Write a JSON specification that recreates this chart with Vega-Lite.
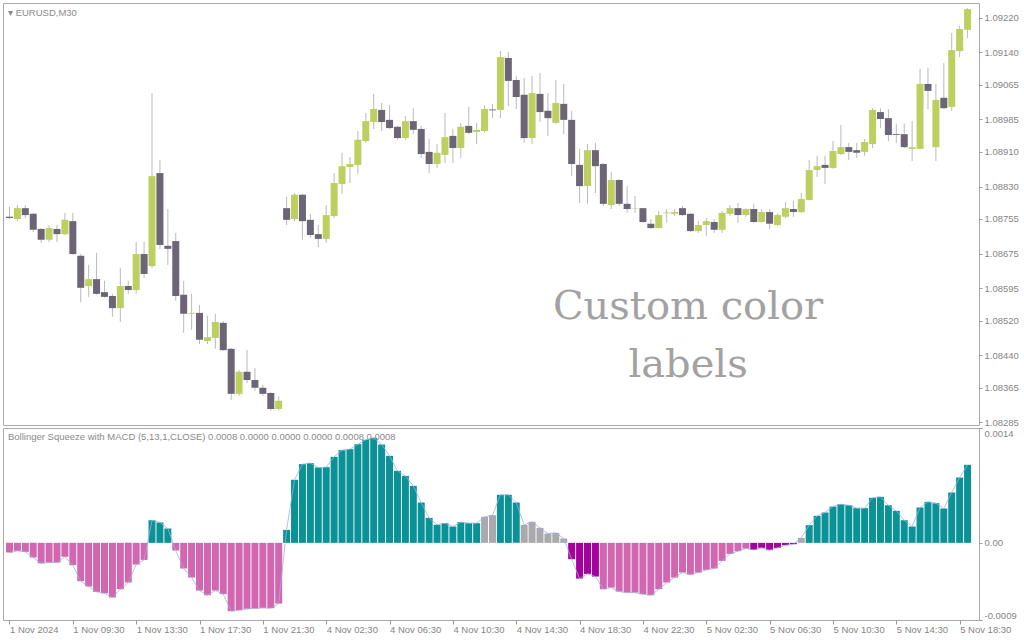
{
"$schema": "https://vega.github.io/schema/vega-lite/v6.json",
"background": "white",
"padding": {"left": 2, "top": 2, "right": 0, "bottom": 0},
"bounds": "flush",
"spacing": 3,
"config": {"view": {"stroke": "#a9a9a9", "strokeWidth": 1}, "axis": {"labelFont": "Liberation Sans", "labelFontSize": 9.5, "labelColor": "#858585", "tickColor": "#9a9a9a", "grid": false, "domain": false, "title": null, "labelOverlap": false}},
"datasets": {
"ohlc": [
{"i":0,"o":1.08760,"h":1.08783,"l":1.08755,"c":1.08757,"m":-0.000115,"s":"bear"},
{"i":1,"o":1.08755,"h":1.08787,"l":1.08750,"c":1.08780,"m":-0.000095,"s":"bear"},
{"i":2,"o":1.08780,"h":1.08787,"l":1.08757,"c":1.08764,"m":-0.000107,"s":"bear"},
{"i":3,"o":1.08767,"h":1.08769,"l":1.08725,"c":1.08730,"m":-0.000175,"s":"bear"},
{"i":4,"o":1.08732,"h":1.08734,"l":1.08700,"c":1.08707,"m":-0.000243,"s":"bear"},
{"i":5,"o":1.08707,"h":1.08741,"l":1.08702,"c":1.08734,"m":-0.000235,"s":"bear"},
{"i":6,"o":1.08732,"h":1.08741,"l":1.08702,"c":1.08720,"m":-0.000235,"s":"bear"},
{"i":7,"o":1.08720,"h":1.08769,"l":1.08718,"c":1.08753,"m":-0.000167,"s":"bear"},
{"i":8,"o":1.08750,"h":1.08769,"l":1.08672,"c":1.08674,"m":-0.000266,"s":"bear"},
{"i":9,"o":1.08670,"h":1.08674,"l":1.08563,"c":1.08596,"m":-0.000457,"s":"bear"},
{"i":10,"o":1.08600,"h":1.08649,"l":1.08575,"c":1.08616,"m":-0.000521,"s":"bear"},
{"i":11,"o":1.08616,"h":1.08677,"l":1.08580,"c":1.08582,"m":-0.000585,"s":"bear"},
{"i":12,"o":1.08586,"h":1.08612,"l":1.08573,"c":1.08575,"m":-0.000601,"s":"bear"},
{"i":13,"o":1.08577,"h":1.08582,"l":1.08529,"c":1.08549,"m":-0.000652,"s":"bear"},
{"i":14,"o":1.08549,"h":1.08642,"l":1.08517,"c":1.08600,"m":-0.000553,"s":"bear"},
{"i":15,"o":1.08600,"h":1.08612,"l":1.08582,"c":1.08591,"m":-0.000473,"s":"bear"},
{"i":16,"o":1.08591,"h":1.08702,"l":1.08582,"c":1.08674,"m":-0.000259,"s":"bear"},
{"i":17,"o":1.08674,"h":1.08702,"l":1.08619,"c":1.08628,"m":-0.000203,"s":"bear"},
{"i":18,"o":1.08646,"h":1.09046,"l":1.08642,"c":1.08854,"m":0.000270,"s":"bull"},
{"i":19,"o":1.08861,"h":1.08891,"l":1.08686,"c":1.08695,"m":0.000243,"s":"bull"},
{"i":20,"o":1.08693,"h":1.08778,"l":1.08649,"c":1.08686,"m":0.000171,"s":"bull"},
{"i":21,"o":1.08704,"h":1.08723,"l":1.08566,"c":1.08577,"m":-0.000091,"s":"bear"},
{"i":22,"o":1.08580,"h":1.08612,"l":1.08492,"c":1.08536,"m":-0.000306,"s":"bear"},
{"i":23,"o":1.08536,"h":1.08582,"l":1.08499,"c":1.08538,"m":-0.000414,"s":"bear"},
{"i":24,"o":1.08538,"h":1.08556,"l":1.08466,"c":1.08476,"m":-0.000569,"s":"bear"},
{"i":25,"o":1.08473,"h":1.08531,"l":1.08466,"c":1.08482,"m":-0.000624,"s":"bear"},
{"i":26,"o":1.08480,"h":1.08536,"l":1.08455,"c":1.08517,"m":-0.000569,"s":"bear"},
{"i":27,"o":1.08515,"h":1.08519,"l":1.08450,"c":1.08452,"m":-0.000612,"s":"bear"},
{"i":28,"o":1.08455,"h":1.08457,"l":1.08337,"c":1.08351,"m":-0.000815,"s":"bear"},
{"i":29,"o":1.08351,"h":1.08406,"l":1.08346,"c":1.08402,"m":-0.000803,"s":"bear"},
{"i":30,"o":1.08402,"h":1.08452,"l":1.08376,"c":1.08383,"m":-0.000787,"s":"bear"},
{"i":31,"o":1.08383,"h":1.08411,"l":1.08358,"c":1.08365,"m":-0.000783,"s":"bear"},
{"i":32,"o":1.08365,"h":1.08372,"l":1.08346,"c":1.08351,"m":-0.000776,"s":"bear"},
{"i":33,"o":1.08353,"h":1.08355,"l":1.08312,"c":1.08316,"m":-0.000779,"s":"bear"},
{"i":34,"o":1.08316,"h":1.08346,"l":1.08312,"c":1.08335,"m":-0.000724,"s":"bear"},
{"i":35,"o":1.08780,"h":1.08806,"l":1.08741,"c":1.08753,"m":0.000155,"s":"bull"},
{"i":36,"o":1.08755,"h":1.08815,"l":1.08750,"c":1.08811,"m":0.000752,"s":"bull"},
{"i":37,"o":1.08811,"h":1.08813,"l":1.08707,"c":1.08750,"m":0.000939,"s":"bull"},
{"i":38,"o":1.08753,"h":1.08767,"l":1.08711,"c":1.08718,"m":0.000951,"s":"bull"},
{"i":39,"o":1.08720,"h":1.08741,"l":1.08690,"c":1.08709,"m":0.000899,"s":"bull"},
{"i":40,"o":1.08709,"h":1.08787,"l":1.08700,"c":1.08764,"m":0.000903,"s":"bull"},
{"i":41,"o":1.08762,"h":1.08861,"l":1.08757,"c":1.08838,"m":0.001026,"s":"bull"},
{"i":42,"o":1.08836,"h":1.08908,"l":1.08813,"c":1.08877,"m":0.001106,"s":"bull"},
{"i":43,"o":1.08875,"h":1.08898,"l":1.08838,"c":1.08882,"m":0.001118,"s":"bull"},
{"i":44,"o":1.08880,"h":1.08958,"l":1.08859,"c":1.08938,"m":0.001177,"s":"bull"},
{"i":45,"o":1.08935,"h":1.09000,"l":1.08931,"c":1.08981,"m":0.001229,"s":"bull"},
{"i":46,"o":1.08979,"h":1.09044,"l":1.08963,"c":1.09009,"m":0.001253,"s":"bull"},
{"i":47,"o":1.09007,"h":1.09023,"l":1.08958,"c":1.08979,"m":0.001173,"s":"bull"},
{"i":48,"o":1.08984,"h":1.09018,"l":1.08963,"c":1.08965,"m":0.001038,"s":"bull"},
{"i":49,"o":1.08968,"h":1.08970,"l":1.08938,"c":1.08942,"m":0.000859,"s":"bull"},
{"i":50,"o":1.08942,"h":1.08993,"l":1.08938,"c":1.08981,"m":0.000799,"s":"bull"},
{"i":51,"o":1.08981,"h":1.09011,"l":1.08951,"c":1.08961,"m":0.000680,"s":"bull"},
{"i":52,"o":1.08963,"h":1.08970,"l":1.08896,"c":1.08905,"m":0.000481,"s":"bull"},
{"i":53,"o":1.08910,"h":1.08940,"l":1.08861,"c":1.08882,"m":0.000298,"s":"bull"},
{"i":54,"o":1.08882,"h":1.08928,"l":1.08873,"c":1.08908,"m":0.000215,"s":"bull"},
{"i":55,"o":1.08903,"h":1.09000,"l":1.08884,"c":1.08944,"m":0.000235,"s":"bull"},
{"i":56,"o":1.08947,"h":1.08963,"l":1.08884,"c":1.08919,"m":0.000195,"s":"bull"},
{"i":57,"o":1.08919,"h":1.08977,"l":1.08896,"c":1.08968,"m":0.000247,"s":"bull"},
{"i":58,"o":1.08970,"h":1.09014,"l":1.08951,"c":1.08954,"m":0.000235,"s":"bull"},
{"i":59,"o":1.08956,"h":1.08977,"l":1.08928,"c":1.08961,"m":0.000235,"s":"bull"},
{"i":60,"o":1.08958,"h":1.09018,"l":1.08954,"c":1.09009,"m":0.000310,"s":"flat"},
{"i":61,"o":1.09008,"h":1.09021,"l":1.08988,"c":1.09006,"m":0.000330,"s":"flat"},
{"i":62,"o":1.09007,"h":1.09143,"l":1.08988,"c":1.09129,"m":0.000573,"s":"bull"},
{"i":63,"o":1.09127,"h":1.09141,"l":1.09016,"c":1.09074,"m":0.000573,"s":"bull"},
{"i":64,"o":1.09076,"h":1.09085,"l":1.09009,"c":1.09037,"m":0.000481,"s":"bull"},
{"i":65,"o":1.09042,"h":1.09081,"l":1.08931,"c":1.08942,"m":0.000215,"s":"flat"},
{"i":66,"o":1.08942,"h":1.09085,"l":1.08928,"c":1.09046,"m":0.000251,"s":"flat"},
{"i":67,"o":1.09044,"h":1.09092,"l":1.08979,"c":1.09002,"m":0.000179,"s":"flat"},
{"i":68,"o":1.09005,"h":1.09046,"l":1.08947,"c":1.08988,"m":0.000111,"s":"flat"},
{"i":69,"o":1.08977,"h":1.09076,"l":1.08975,"c":1.09023,"m":0.000119,"s":"flat"},
{"i":70,"o":1.09021,"h":1.09067,"l":1.08951,"c":1.08984,"m":0.000052,"s":"flat"},
{"i":71,"o":1.08984,"h":1.09005,"l":1.08854,"c":1.08882,"m":-0.000195,"s":"strong"},
{"i":72,"o":1.08880,"h":1.08917,"l":1.08792,"c":1.08831,"m":-0.000426,"s":"strong"},
{"i":73,"o":1.08831,"h":1.08928,"l":1.08790,"c":1.08914,"m":-0.000370,"s":"strong"},
{"i":74,"o":1.08914,"h":1.08931,"l":1.08815,"c":1.08877,"m":-0.000402,"s":"strong"},
{"i":75,"o":1.08882,"h":1.08884,"l":1.08785,"c":1.08790,"m":-0.000553,"s":"bear"},
{"i":76,"o":1.08787,"h":1.08864,"l":1.08778,"c":1.08845,"m":-0.000533,"s":"bear"},
{"i":77,"o":1.08845,"h":1.08847,"l":1.08785,"c":1.08790,"m":-0.000581,"s":"bear"},
{"i":78,"o":1.08790,"h":1.08831,"l":1.08769,"c":1.08778,"m":-0.000593,"s":"bear"},
{"i":79,"o":1.08779,"h":1.08808,"l":1.08769,"c":1.08780,"m":-0.000593,"s":"bear"},
{"i":80,"o":1.08780,"h":1.08781,"l":1.08746,"c":1.08748,"m":-0.000612,"s":"bear"},
{"i":81,"o":1.08744,"h":1.08755,"l":1.08732,"c":1.08734,"m":-0.000624,"s":"bear"},
{"i":82,"o":1.08734,"h":1.08774,"l":1.08733,"c":1.08764,"m":-0.000553,"s":"bear"},
{"i":83,"o":1.08768,"h":1.08778,"l":1.08746,"c":1.08770,"m":-0.000473,"s":"bear"},
{"i":84,"o":1.08767,"h":1.08778,"l":1.08762,"c":1.08771,"m":-0.000414,"s":"bear"},
{"i":85,"o":1.08780,"h":1.08785,"l":1.08762,"c":1.08764,"m":-0.000354,"s":"bear"},
{"i":86,"o":1.08767,"h":1.08769,"l":1.08725,"c":1.08727,"m":-0.000378,"s":"bear"},
{"i":87,"o":1.08727,"h":1.08750,"l":1.08723,"c":1.08741,"m":-0.000354,"s":"bear"},
{"i":88,"o":1.08741,"h":1.08757,"l":1.08716,"c":1.08750,"m":-0.000322,"s":"bear"},
{"i":89,"o":1.08748,"h":1.08755,"l":1.08723,"c":1.08730,"m":-0.000306,"s":"bear"},
{"i":90,"o":1.08730,"h":1.08774,"l":1.08723,"c":1.08769,"m":-0.000215,"s":"bear"},
{"i":91,"o":1.08767,"h":1.08787,"l":1.08762,"c":1.08780,"m":-0.000131,"s":"bear"},
{"i":92,"o":1.08780,"h":1.08792,"l":1.08746,"c":1.08764,"m":-0.000099,"s":"bear"},
{"i":93,"o":1.08764,"h":1.08780,"l":1.08760,"c":1.08778,"m":-0.000068,"s":"bear"},
{"i":94,"o":1.08778,"h":1.08790,"l":1.08746,"c":1.08748,"m":-0.000084,"s":"strong"},
{"i":95,"o":1.08748,"h":1.08778,"l":1.08746,"c":1.08771,"m":-0.000060,"s":"strong"},
{"i":96,"o":1.08771,"h":1.08778,"l":1.08732,"c":1.08744,"m":-0.000087,"s":"strong"},
{"i":97,"o":1.08741,"h":1.08767,"l":1.08739,"c":1.08764,"m":-0.000060,"s":"strong"},
{"i":98,"o":1.08760,"h":1.08794,"l":1.08757,"c":1.08780,"m":-0.000028,"s":"strong"},
{"i":99,"o":1.08778,"h":1.08797,"l":1.08760,"c":1.08771,"m":-0.000016,"s":"strong"},
{"i":100,"o":1.08771,"h":1.08815,"l":1.08769,"c":1.08801,"m":0.000060,"s":"flat"},
{"i":101,"o":1.08799,"h":1.08891,"l":1.08798,"c":1.08868,"m":0.000211,"s":"bull"},
{"i":102,"o":1.08868,"h":1.08901,"l":1.08852,"c":1.08877,"m":0.000322,"s":"bull"},
{"i":103,"o":1.08880,"h":1.08901,"l":1.08836,"c":1.08873,"m":0.000362,"s":"bull"},
{"i":104,"o":1.08873,"h":1.08935,"l":1.08871,"c":1.08912,"m":0.000433,"s":"bull"},
{"i":105,"o":1.08905,"h":1.08972,"l":1.08903,"c":1.08921,"m":0.000461,"s":"bull"},
{"i":106,"o":1.08921,"h":1.08931,"l":1.08891,"c":1.08910,"m":0.000449,"s":"bull"},
{"i":107,"o":1.08914,"h":1.08931,"l":1.08896,"c":1.08908,"m":0.000414,"s":"bull"},
{"i":108,"o":1.08910,"h":1.08940,"l":1.08901,"c":1.08933,"m":0.000414,"s":"bull"},
{"i":109,"o":1.08928,"h":1.09011,"l":1.08919,"c":1.09007,"m":0.000537,"s":"bull"},
{"i":110,"o":1.09002,"h":1.09011,"l":1.08965,"c":1.08986,"m":0.000549,"s":"bull"},
{"i":111,"o":1.08988,"h":1.09009,"l":1.08935,"c":1.08949,"m":0.000449,"s":"bull"},
{"i":112,"o":1.08951,"h":1.08975,"l":1.08931,"c":1.08949,"m":0.000382,"s":"bull"},
{"i":113,"o":1.08951,"h":1.08975,"l":1.08919,"c":1.08921,"m":0.000270,"s":"bull"},
{"i":114,"o":1.08917,"h":1.08981,"l":1.08889,"c":1.08921,"m":0.000195,"s":"bull"},
{"i":115,"o":1.08917,"h":1.09102,"l":1.08916,"c":1.09067,"m":0.000422,"s":"bull"},
{"i":116,"o":1.09067,"h":1.09104,"l":1.09009,"c":1.09051,"m":0.000489,"s":"bull"},
{"i":117,"o":1.08921,"h":1.09067,"l":1.08889,"c":1.09030,"m":0.000473,"s":"bull"},
{"i":118,"o":1.09035,"h":1.09115,"l":1.09009,"c":1.09011,"m":0.000410,"s":"bull"},
{"i":119,"o":1.09014,"h":1.09185,"l":1.09005,"c":1.09145,"m":0.000601,"s":"bull"},
{"i":120,"o":1.09143,"h":1.09201,"l":1.09129,"c":1.09194,"m":0.000779,"s":"bull"},
{"i":121,"o":1.09192,"h":1.09242,"l":1.09173,"c":1.09240,"m":0.000931,"s":"bull"}
],
"notes": [
{"i":85.7,"p":1.08524,"label":"Custom color"},
{"i":85.7,"p":1.08390,"label":"labels"}
]
},
"vconcat": [
{
"width": 976, "height": 422,
"title": {"text": "▾ EURUSD,M30", "anchor": "start", "frame": "group", "orient": "top", "baseline": "top", "offset": -14, "dx": 5, "font": "Liberation Sans", "fontSize": 9.5, "fontWeight": "normal", "color": "#8a8a8a"},
"encoding": {
  "x": {"field": "i", "type": "quantitative", "scale": {"domain": [-0.1875, 121.8125], "nice": false, "zero": false}, "axis": null}
},
"layer": [
{"data": {"name": "ohlc"}, "mark": {"type": "rule", "color": "#b9b9c1", "strokeWidth": 1, "clip": true},
 "encoding": {
  "y": {"field": "l", "type": "quantitative", "scale": {"domain": [1.08279, 1.09254], "nice": false, "zero": false},
        "axis": {"orient": "right", "values": [1.0922, 1.0914, 1.09065, 1.08985, 1.0891, 1.0883, 1.08755, 1.08675, 1.08595, 1.0852, 1.0844, 1.08365, 1.08285], "format": ".5f", "tickSize": 3, "labelPadding": 2, "labelFlush": false, "labelOverlap": false}},
  "y2": {"field": "h"}}},
{"data": {"name": "ohlc"}, "mark": {"type": "bar", "width": 7, "clip": true},
 "encoding": {
  "y": {"field": "o", "type": "quantitative",
        "axis": {"orient": "right", "values": [1.0922, 1.0914, 1.09065, 1.08985, 1.0891, 1.0883, 1.08755, 1.08675, 1.08595, 1.0852, 1.0844, 1.08365, 1.08285], "format": ".5f", "tickSize": 3, "labelPadding": 2, "labelFlush": false, "labelOverlap": false}},
  "y2": {"field": "c"},
  "color": {"condition": {"test": "datum.c >= datum.o", "value": "#bccf5f"}, "value": "#6c6575"}}},
{"data": {"name": "notes"}, "mark": {"type": "text", "font": "DejaVu Serif", "fontSize": 40, "color": "#a2a2a2", "align": "center", "baseline": "alphabetic"},
 "encoding": {
  "y": {"field": "p", "type": "quantitative",
        "axis": {"orient": "right", "values": [1.0922, 1.0914, 1.09065, 1.08985, 1.0891, 1.0883, 1.08755, 1.08675, 1.08595, 1.0852, 1.0844, 1.08365, 1.08285], "format": ".5f", "tickSize": 3, "labelPadding": 2, "labelFlush": false, "labelOverlap": false}},
  "text": {"field": "label"}}}
]
},
{
"width": 976, "height": 192,
"title": {"text": "Bollinger Squeeze with MACD (5,13,1,CLOSE) 0.0008 0.0000 0.0000 0.0000 0.0008 0.0008", "anchor": "start", "frame": "group", "orient": "top", "baseline": "top", "offset": -14, "dx": 5, "font": "Liberation Sans", "fontSize": 9.5, "fontWeight": "normal", "color": "#8a8a8a"},
"data": {"name": "ohlc"},
"encoding": {
  "x": {"field": "i", "type": "quantitative", "scale": {"domain": [-0.1875, 121.8125], "nice": false, "zero": false},
        "axis": {"orient": "bottom", "values": [0,8,16,24,32,40,48,56,64,72,80,88,96,104,112,120], "labelExpr": "['1 Nov 2024','1 Nov 09:30','1 Nov 13:30','1 Nov 17:30','1 Nov 21:30','4 Nov 02:30','4 Nov 06:30','4 Nov 10:30','4 Nov 14:30','4 Nov 18:30','4 Nov 22:30','5 Nov 02:30','5 Nov 06:30','5 Nov 10:30','5 Nov 14:30','5 Nov 18:30'][round(datum.value/8)]", "labelAlign": "left", "labelBaseline": "top", "labelPadding": 0, "tickSize": 4, "labelFlush": false, "labelOverlap": false, "labelBound": false}},
  "y": {"field": "m", "type": "quantitative", "scale": {"domain": [-0.00092, 0.00137], "nice": false, "zero": false},
        "axis": {"orient": "right", "values": [0.00137, 0, -0.00092], "labelExpr": "datum.value > 0 ? '0.0014' : (datum.value < 0 ? '-0.0009' : '0.00')", "tickSize": 3, "labelPadding": 2, "labelFlush": true, "labelOverlap": false}}
},
"layer": [
{"mark": {"type": "bar", "width": 7},
 "encoding": {
  "y2": {"datum": 0},
  "color": {"field": "s", "type": "nominal", "scale": {"domain": ["bull", "bear", "flat", "strong"], "range": ["#0b9297", "#d067b0", "#a9a9ae", "#a6009d"]}, "legend": null}}},
{"mark": {"type": "line", "color": "#9db0dc", "strokeWidth": 0.8},
 "encoding": {}}
]
}
]
}
